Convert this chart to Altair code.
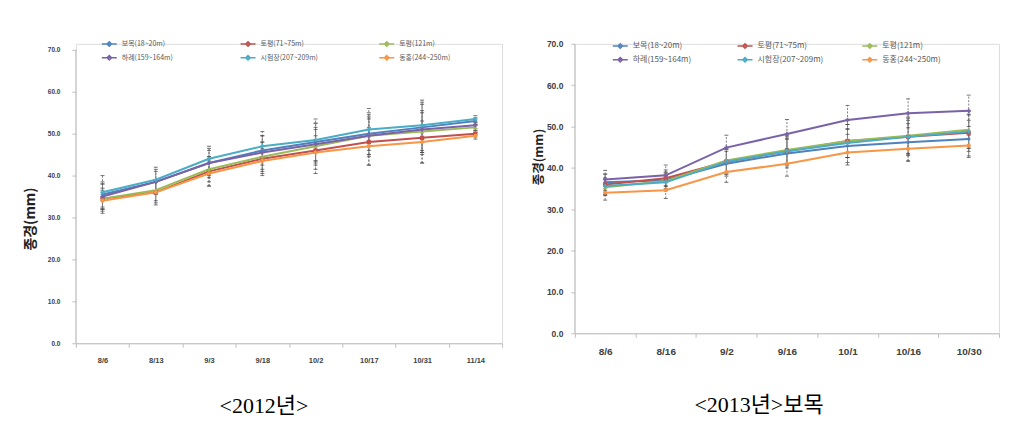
import altair as alt
import pandas as pd

sites = ["보목(18~20m)", "토평(71~75m)", "토평(121m)", "하례(159~164m)", "시험장(207~209m)", "동홍(244~250m)"]
colors = ["#4F81BD", "#C0504D", "#9BBB59", "#7A62A8", "#4BACC6", "#F79646"]
shapes = ["diamond", "square", "triangle-up", "cross", "cross", "circle"]

dates12 = ["8/6", "8/13", "9/3", "9/18", "10/2", "10/17", "10/31", "11/14"]
v12_bomok = [35.5, 38.5, 43.0, 46.0, 48.0, 50.0, 51.5, 53.0]
v12_topy1 = [34.5, 36.0, 41.0, 44.0, 46.0, 48.0, 49.0, 50.0]
v12_topy2 = [34.5, 36.5, 41.5, 44.5, 47.0, 49.5, 50.5, 51.5]
v12_harye = [35.0, 38.5, 43.0, 45.5, 47.5, 49.5, 51.0, 52.0]
v12_test = [36.0, 39.0, 44.0, 47.0, 48.5, 51.0, 52.0, 53.5]
v12_dong = [34.0, 36.0, 40.5, 43.5, 45.5, 47.0, 48.0, 49.5]
sd12_bomok = [3.0, 2.5, 3.0, 3.5, 4.5, 5.0, 6.0, 0.8]
sd12_topy1 = [3.5, 3.0, 3.5, 4.0, 5.5, 5.5, 6.0, 0.8]
sd12_topy2 = [2.5, 2.5, 3.0, 3.5, 4.0, 4.5, 5.0, 0.8]
sd12_harye = [3.0, 3.0, 3.5, 4.0, 5.0, 5.0, 6.0, 0.8]
sd12_test = [4.0, 3.0, 3.0, 3.5, 5.0, 5.0, 6.0, 0.8]
sd12_dong = [2.5, 2.5, 3.0, 3.0, 4.0, 4.5, 5.0, 0.8]

dates13 = ["8/6", "8/16", "9/2", "9/16", "10/1", "10/16", "10/30"]
v13_bomok = [36.5, 37.0, 41.0, 43.5, 45.3, 46.2, 47.0]
v13_topy1 = [36.0, 37.5, 41.5, 44.0, 46.5, 47.5, 48.5]
v13_topy2 = [35.3, 36.8, 41.8, 44.3, 46.5, 47.8, 49.2]
v13_harye = [37.2, 38.2, 44.9, 48.2, 51.6, 53.2, 53.8]
v13_test = [35.6, 36.5, 41.5, 44.0, 46.0, 47.5, 48.8]
v13_dong = [34.0, 34.6, 39.0, 41.0, 43.7, 44.6, 45.4]
sd13_bomok = [2.0, 2.0, 3.0, 3.5, 4.0, 4.5, 4.5]
sd13_topy1 = [2.5, 2.0, 3.0, 3.5, 4.0, 4.5, 4.5]
sd13_topy2 = [2.0, 2.0, 3.0, 3.5, 4.0, 4.5, 4.5]
sd13_harye = [2.2, 2.5, 3.0, 3.5, 3.5, 3.5, 3.8]
sd13_test = [2.0, 2.0, 3.0, 3.0, 3.5, 4.0, 4.0]
sd13_dong = [1.8, 2.0, 2.5, 3.0, 3.0, 3.0, 2.5]

yticks = [0, 10, 20, 30, 40, 50, 60, 70]


def make_df(dates, vals, sds):
    rows = []
    for s, vs, es in zip(sites, vals, sds):
        for d, v, e in zip(dates, vs, es):
            rows.append({"date": d, "site": s, "shp": s, "v": v, "lo": v - e, "hi": v + e})
    return pd.DataFrame(rows)


df12 = make_df(dates12,
               [v12_bomok, v12_topy1, v12_topy2, v12_harye, v12_test, v12_dong],
               [sd12_bomok, sd12_topy1, sd12_topy2, sd12_harye, sd12_test, sd12_dong])
df13 = make_df(dates13,
               [v13_bomok, v13_topy1, v13_topy2, v13_harye, v13_test, v13_dong],
               [sd13_bomok, sd13_topy1, sd13_topy2, sd13_harye, sd13_test, sd13_dong])


def panel(df, dates, w, h, ymax, caption, xlab, ylab, ylab_pad, title_size, title_y,
          title_pad, leg_x, leg_y, leg_font, col_pad, cap_dx, cap_off):
    x = alt.X("date:N", sort=dates, title=None,
              scale=alt.Scale(paddingInner=0, paddingOuter=0),
              axis=alt.Axis(labelAngle=0, tickBand="extent", labelFontSize=xlab,
                            labelFont="Liberation Sans", labelFontWeight="bold",
                            labelColor="#404040", labelPadding=9, tickSize=4,
                            domainColor="#BFBFBF", tickColor="#BFBFBF"))
    y = alt.Y("v:Q", title="종경(mm)",
              scale=alt.Scale(domain=[0, ymax], nice=False),
              axis=alt.Axis(values=yticks, format=".1f", grid=False, domain=False,
                            labelFontSize=ylab, labelFont="Liberation Sans",
                            labelFontWeight="bold", labelColor="#404040",
                            labelPadding=ylab_pad, tickSize=4,
                            tickColor="#BFBFBF", titleFont="Noto Sans CJK KR",
                            titleFontSize=title_size, titleFontWeight="bold",
                            titleColor="#222222", titleY=title_y,
                            titlePadding=title_pad))
    color = alt.Color("site:N", scale=alt.Scale(domain=sites, range=colors),
                      legend=alt.Legend(orient="none", legendX=leg_x, legendY=leg_y,
                                        columns=3, direction="horizontal", title=None,
                                        gridAlign="all", columnPadding=col_pad,
                                        rowPadding=0, labelFontSize=leg_font,
                                        labelColor="#595959", labelFont="Noto Sans CJK KR",
                                        labelLimit=200,
                                        symbolType="M-1,0H1M-0.3,0L0,-0.3L0.3,0L0,0.3Z",
                                        symbolSize=225, symbolStrokeWidth=1.5,
                                        labelOffset=4))
    base = alt.Chart(df)
    yaxis_line = alt.Chart(pd.DataFrame({"a": [0]})).mark_rule(
        color="#BFBFBF", strokeWidth=1).encode(
        x=alt.value(0), y=alt.datum(0), y2=alt.datum(yticks[-1]))
    bars = base.mark_rule(color="#7F7F7F", strokeWidth=1, strokeDash=[2, 1.5]).encode(
        x=x, y="lo:Q", y2="hi:Q")
    caps_lo = base.mark_tick(color="#404040", thickness=1, size=4).encode(x=x, y="lo:Q")
    caps_hi = base.mark_tick(color="#404040", thickness=1, size=4).encode(x=x, y="hi:Q")
    lines = base.mark_line(strokeWidth=2).encode(x=x, y=y, color=color)
    pts = base.mark_point(filled=True, size=18, opacity=1).encode(
        x=x, y=y,
        color=alt.Color("shp:N", scale=alt.Scale(domain=sites, range=colors), legend=None),
        shape=alt.Shape("shp:N", scale=alt.Scale(domain=sites, range=shapes), legend=None))
    return alt.layer(bars, caps_lo, caps_hi, lines, pts, yaxis_line).resolve_scale(
        color="independent", shape="independent"
    ).properties(
        width=w, height=h,
        title=alt.TitleParams(caption, orient="bottom", fontSize=22,
                              font="Liberation Serif, Noto Sans CJK KR",
                              fontWeight="normal", color="#000000", offset=cap_off,
                              dx=cap_dx))


left = panel(df12, dates12, 427, 300, 70 * 300 / 294, "<2012년>", 7.5, 6.5, 12, 14, 175,
             10, 25, -8.5, 7, 58, -25, 32)
right = panel(df13, dates13, 425, 290, 70, "<2013년>보목", 10, 8.5, 8, 12.5, 113, 1,
              37, -6.5, 8, 36, -28, 39)

chart = alt.hconcat(left, right, spacing=73, bounds="flush").resolve_scale(
    color="independent", shape="independent", x="independent", y="independent"
).resolve_legend(color="independent", shape="independent").properties(
    padding={"left": 14, "top": 26.5, "right": 2, "bottom": 2}
).configure_view(stroke=None).configure(background="white")

chart.save("out.html", embed_options={"renderer": "svg", "actions": False})
